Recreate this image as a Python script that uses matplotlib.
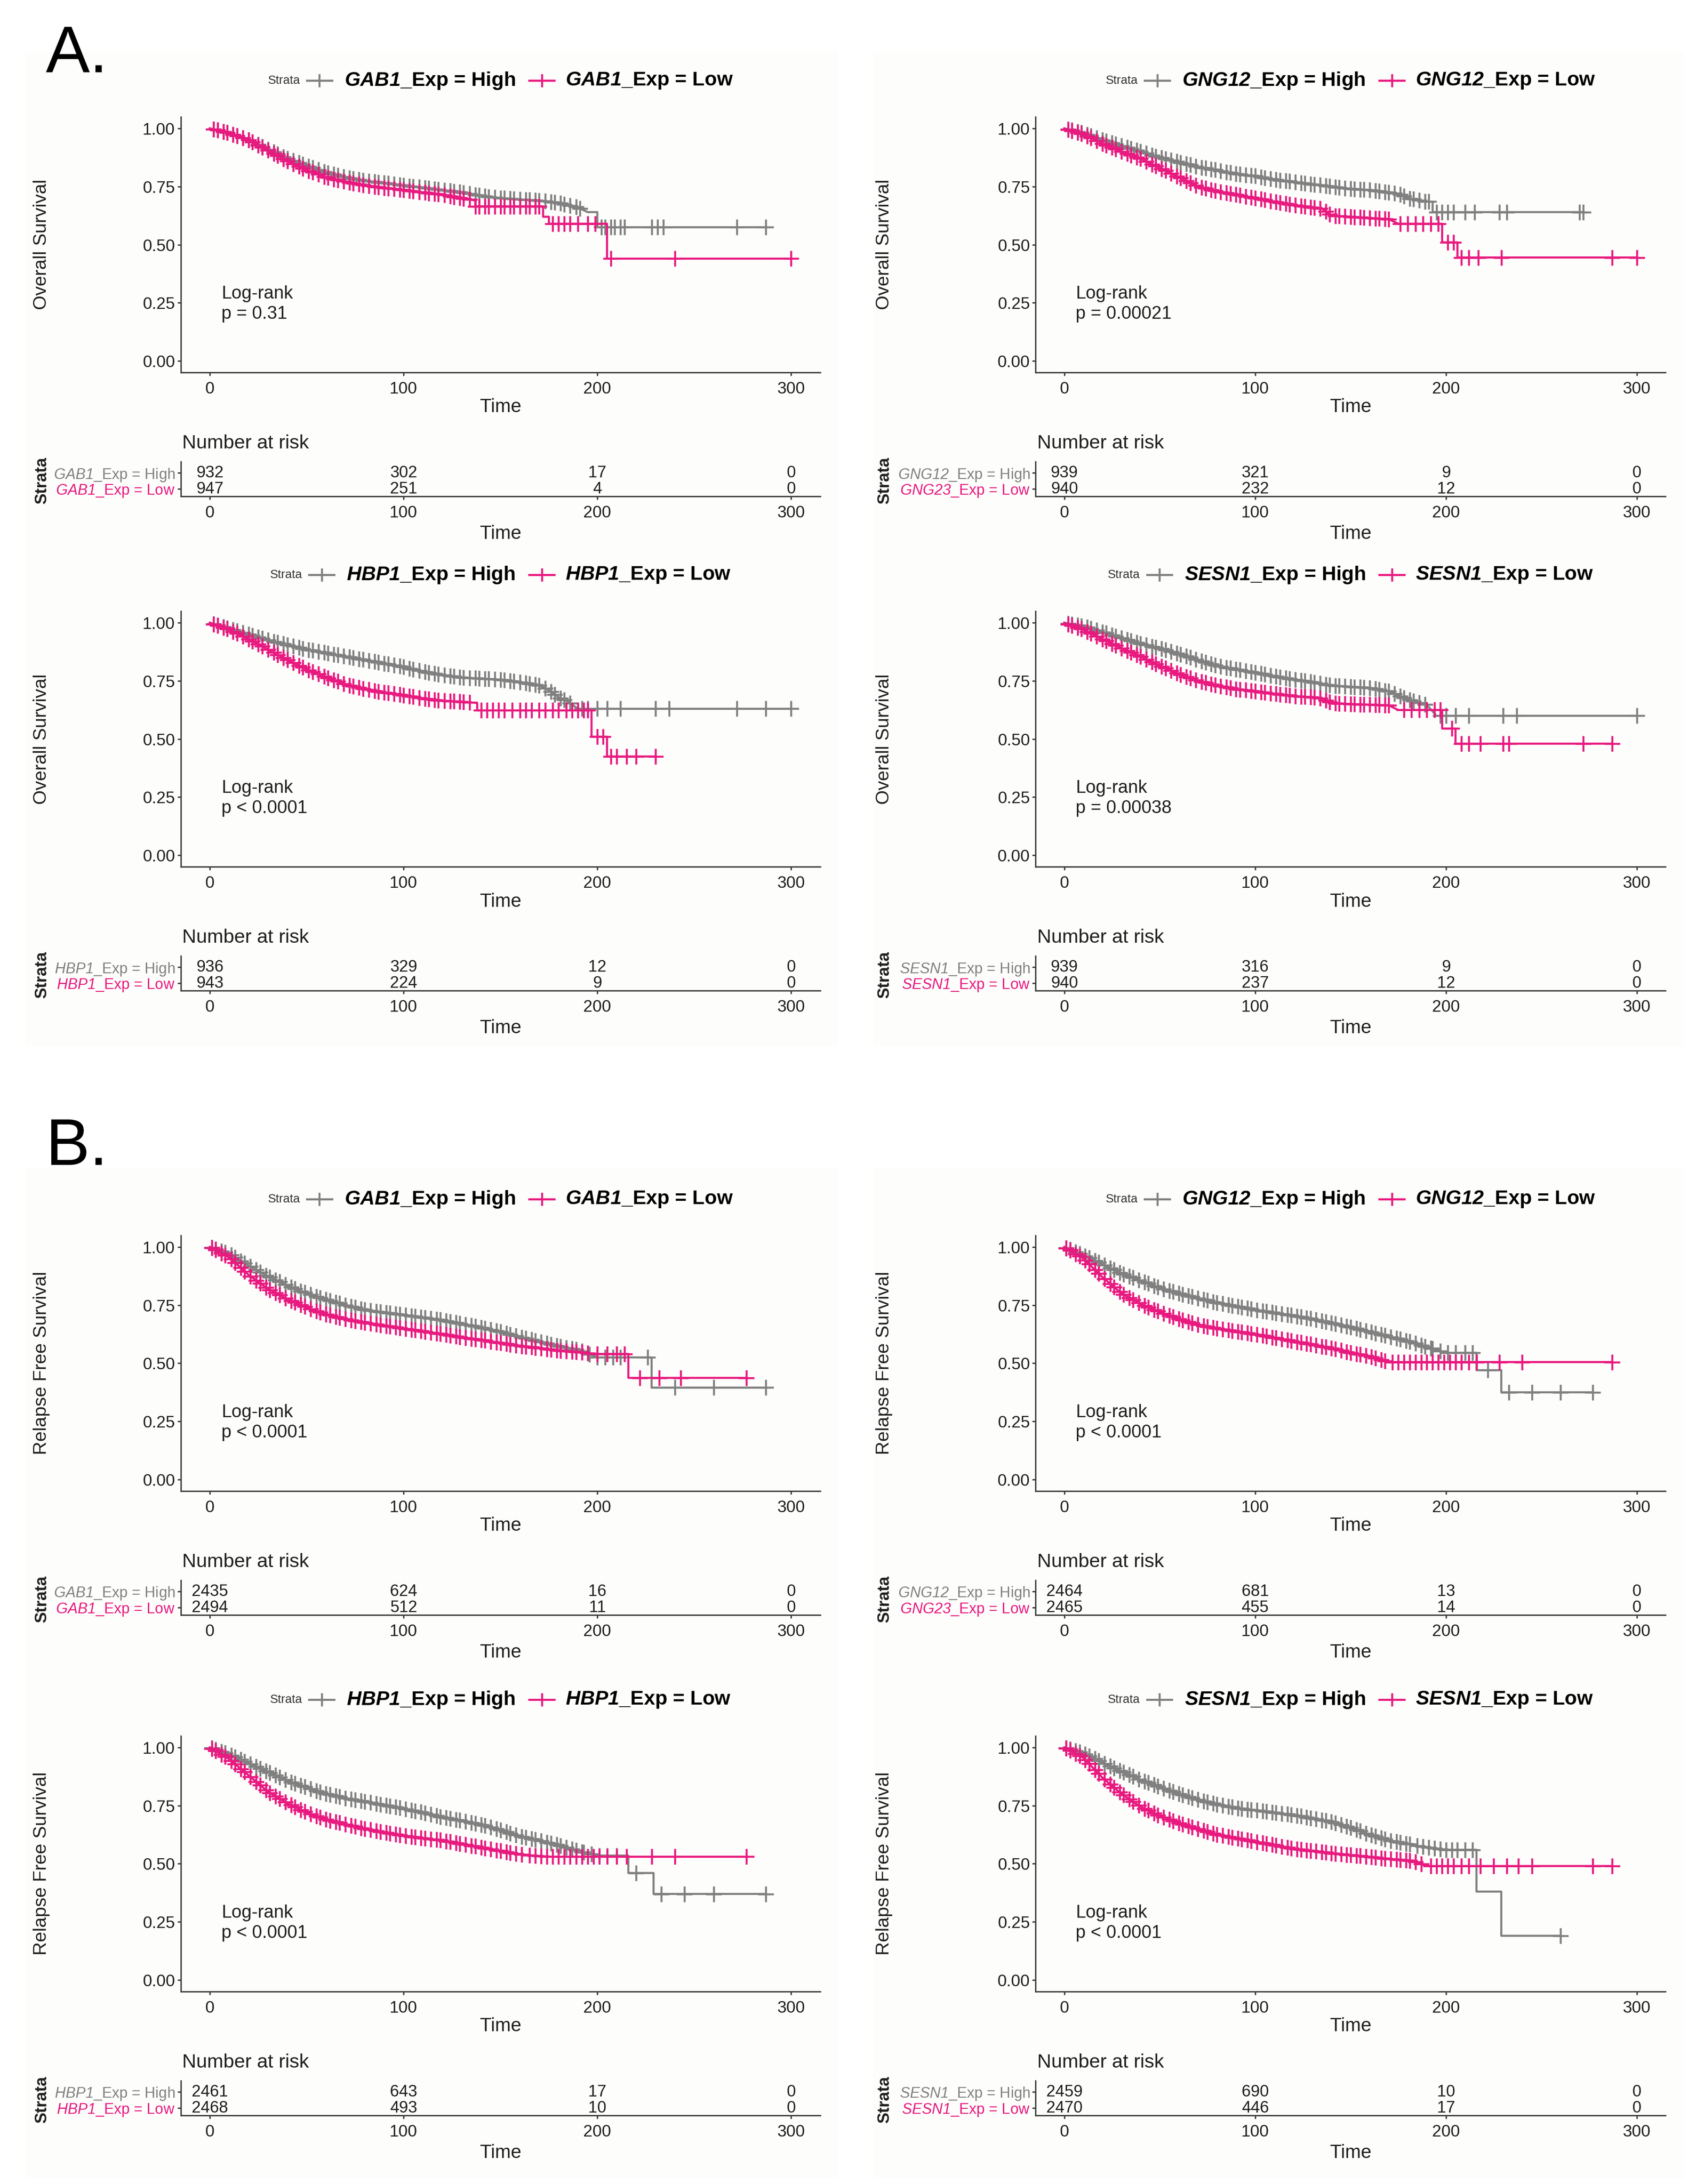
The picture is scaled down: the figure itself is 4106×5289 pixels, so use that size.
import matplotlib
matplotlib.use("Agg")
import matplotlib.pyplot as plt
from matplotlib.lines import Line2D
from matplotlib.patches import Rectangle
import numpy as np

plt.rcParams['font.family'] = ['Liberation Sans', 'DejaVu Sans']
plt.rcParams['mathtext.fontset'] = 'custom'
plt.rcParams['mathtext.rm'] = 'Liberation Sans'
plt.rcParams['mathtext.cal'] = 'Liberation Sans:italic'
plt.rcParams['mathtext.sf'] = 'Liberation Sans:italic:bold'

GRAY = '#808080'
PINK = '#E8197F'
INK = '#1e1e1e'

genes = ['GAB1', 'GNG12', 'HBP1', 'SESN1']
low_label_genes = ['GAB1', 'GNG23', 'HBP1', 'SESN1']   # typo kept from the source figure
risk_times = [0, 100, 200, 300]

# censoring marks in the crowded part of the curves
os_dense = [2, 4, 7, 9, 12, 14, 17, 20, 22, 25, 27, 30, 33, 35, 38, 40, 43, 46, 48, 51, 53, 56, 59, 61, 64,
            66, 69, 72, 74, 77, 79, 82, 85, 87, 90, 92, 95, 98, 100, 103, 105, 108, 111, 113, 116, 118,
            121, 124, 126, 129, 131, 134, 137, 139, 142, 144, 147, 150, 152, 155, 157, 160, 163, 165,
            168, 170, 173, 176, 178, 181, 183, 186, 189, 191]
rfs_dense = [1, 3, 6, 8, 11, 13, 16, 18, 21, 24, 26, 29, 31, 34, 36, 39, 42, 44, 47, 49, 52, 55, 57, 60, 62,
             65, 67, 70, 73, 75, 78, 80, 83, 86, 88, 91, 93, 96, 98, 101, 104, 106, 109, 111, 114, 117,
             119, 122, 124, 127, 129, 132, 135, 137, 140, 142, 145, 148, 150, 153, 155, 158, 161, 163,
             166, 168, 171, 174, 176, 179, 181, 184, 187, 189, 192]

# ---------------- A. overall survival ----------------
os_gab1_high_t = [0, 10, 20, 30, 40, 50, 60, 70, 80, 90, 100, 110, 120, 130, 140, 150, 160, 170, 180, 190, 195, 200, 200, 287]
os_gab1_high_s = [1, 0.98, 0.95, 0.91, 0.87, 0.84, 0.81, 0.79, 0.775, 0.765, 0.755, 0.745, 0.735, 0.725, 0.71, 0.70, 0.695, 0.69, 0.68, 0.66, 0.64, 0.64, 0.575, 0.575]
os_gab1_high_c = [202, 204, 207, 209, 212, 214, 228, 231, 234, 272, 287]
os_gab1_low_t = [0, 10, 20, 30, 40, 50, 60, 70, 80, 90, 100, 110, 120, 130, 137, 137, 172, 172, 175, 175, 205, 205, 300]
os_gab1_low_s = [1, 0.98, 0.95, 0.905, 0.86, 0.82, 0.79, 0.77, 0.755, 0.745, 0.735, 0.725, 0.715, 0.70, 0.69, 0.665, 0.665, 0.62, 0.62, 0.59, 0.59, 0.44, 0.44]
os_gab1_low_c = [177, 180, 183, 186, 190, 195, 199, 207, 240, 300]

os_gng12_high_t = [0, 10, 20, 30, 40, 50, 60, 70, 80, 90, 100, 110, 120, 130, 140, 150, 160, 170, 175, 180, 190, 193, 193, 272]
os_gng12_high_s = [1, 0.98, 0.95, 0.925, 0.90, 0.875, 0.855, 0.835, 0.82, 0.805, 0.795, 0.78, 0.77, 0.76, 0.75, 0.74, 0.735, 0.725, 0.72, 0.70, 0.685, 0.685, 0.64, 0.64]
os_gng12_high_c = [195, 198, 201, 204, 210, 215, 228, 232, 270, 272]
os_gng12_low_t = [0, 10, 20, 30, 40, 50, 60, 70, 80, 90, 100, 110, 120, 130, 135, 140, 150, 160, 170, 175, 198, 198, 206, 206, 300]
os_gng12_low_s = [1, 0.975, 0.935, 0.90, 0.87, 0.83, 0.79, 0.75, 0.73, 0.715, 0.70, 0.685, 0.67, 0.66, 0.655, 0.625, 0.62, 0.615, 0.61, 0.59, 0.59, 0.51, 0.51, 0.445, 0.445]
os_gng12_low_c = [176, 180, 184, 188, 192, 196, 201, 204, 208, 212, 217, 229, 287, 300]

os_hbp1_high_t = [0, 10, 20, 30, 40, 50, 60, 70, 80, 90, 100, 110, 120, 130, 140, 150, 160, 170, 175, 180, 185, 190, 300]
os_hbp1_high_s = [1, 0.975, 0.95, 0.925, 0.905, 0.885, 0.87, 0.855, 0.84, 0.825, 0.81, 0.79, 0.775, 0.765, 0.76, 0.755, 0.745, 0.73, 0.71, 0.68, 0.66, 0.63, 0.63]
os_hbp1_high_c = [192, 195, 200, 205, 212, 230, 237, 272, 287, 300]
os_hbp1_low_t = [0, 10, 20, 30, 40, 50, 60, 70, 80, 90, 100, 110, 120, 130, 135, 138, 138, 197, 197, 205, 205, 230]
os_hbp1_low_s = [1, 0.97, 0.93, 0.885, 0.84, 0.80, 0.766, 0.735, 0.715, 0.70, 0.688, 0.675, 0.665, 0.66, 0.657, 0.655, 0.623, 0.623, 0.51, 0.51, 0.425, 0.425]
os_hbp1_low_c = [140, 143, 146, 149, 152, 156, 160, 163, 166, 170, 173, 177, 180, 184, 187, 190, 193, 195, 200, 203, 207, 210, 215, 220, 230]

os_sesn1_high_t = [0, 10, 20, 30, 40, 50, 60, 70, 80, 90, 100, 110, 120, 130, 140, 150, 160, 170, 180, 190, 195, 300]
os_sesn1_high_s = [1, 0.985, 0.96, 0.935, 0.91, 0.89, 0.866, 0.84, 0.815, 0.80, 0.786, 0.77, 0.757, 0.745, 0.73, 0.725, 0.72, 0.705, 0.67, 0.647, 0.60, 0.60]
os_sesn1_high_c = [197, 200, 205, 212, 230, 237, 300]
os_sesn1_low_t = [0, 10, 20, 30, 40, 50, 60, 70, 80, 90, 100, 110, 120, 130, 135, 140, 150, 160, 170, 175, 198, 198, 205, 205, 287]
os_sesn1_low_s = [1, 0.97, 0.93, 0.89, 0.855, 0.815, 0.78, 0.75, 0.73, 0.715, 0.705, 0.695, 0.685, 0.68, 0.675, 0.655, 0.65, 0.648, 0.645, 0.625, 0.625, 0.545, 0.545, 0.48, 0.48]
os_sesn1_low_c = [178, 182, 186, 190, 194, 197, 203, 208, 212, 218, 230, 233, 272, 287]

os_dense_end_high = [195, 192, 188, 190]
os_dense_end_low = [170, 172, 135, 172]

os_risk_high = [[932, 302, 17, 0], [939, 321, 9, 0], [936, 329, 12, 0], [939, 316, 9, 0]]
os_risk_low = [[947, 251, 4, 0], [940, 232, 12, 0], [943, 224, 9, 0], [940, 237, 12, 0]]
os_pvals = ['p = 0.31', 'p = 0.00021', 'p < 0.0001', 'p = 0.00038']

# ---------------- B. relapse free survival ----------------
rfs_gab1_high_t = [0, 10, 20, 30, 40, 50, 60, 70, 80, 90, 100, 110, 120, 130, 140, 150, 160, 170, 180, 190, 200, 228, 228, 287]
rfs_gab1_high_s = [1, 0.97, 0.92, 0.873, 0.834, 0.80, 0.774, 0.75, 0.73, 0.718, 0.708, 0.697, 0.685, 0.67, 0.653, 0.635, 0.613, 0.593, 0.573, 0.558, 0.525, 0.525, 0.395, 0.395]
rfs_gab1_high_c = [192, 196, 200, 204, 208, 212, 226, 240, 260, 287]
rfs_gab1_low_t = [0, 10, 20, 30, 40, 50, 60, 70, 80, 90, 100, 110, 120, 130, 140, 150, 160, 170, 180, 190, 200, 216, 216, 277]
rfs_gab1_low_s = [1, 0.955, 0.88, 0.82, 0.775, 0.74, 0.71, 0.69, 0.675, 0.662, 0.65, 0.637, 0.625, 0.612, 0.60, 0.587, 0.575, 0.565, 0.555, 0.548, 0.54, 0.54, 0.437, 0.437]
rfs_gab1_low_c = [195, 200, 205, 210, 214, 222, 232, 243, 277]

rfs_gng12_high_t = [0, 10, 20, 30, 40, 50, 60, 70, 80, 90, 100, 110, 120, 130, 140, 150, 160, 170, 180, 190, 200, 216, 216, 229, 229, 277]
rfs_gng12_high_s = [1, 0.965, 0.925, 0.886, 0.855, 0.824, 0.80, 0.78, 0.76, 0.745, 0.73, 0.717, 0.705, 0.69, 0.673, 0.655, 0.635, 0.615, 0.595, 0.57, 0.545, 0.545, 0.47, 0.47, 0.375, 0.375]
rfs_gng12_high_c = [193, 197, 201, 205, 210, 214, 222, 233, 245, 260, 277]
rfs_gng12_low_t = [0, 10, 20, 30, 40, 50, 60, 70, 80, 90, 100, 110, 120, 130, 140, 150, 160, 170, 287]
rfs_gng12_low_s = [1, 0.95, 0.87, 0.80, 0.755, 0.72, 0.69, 0.665, 0.65, 0.637, 0.625, 0.61, 0.595, 0.58, 0.565, 0.545, 0.53, 0.505, 0.505]
rfs_gng12_low_c = [172, 175, 178, 181, 184, 187, 190, 193, 196, 199, 202, 205, 208, 212, 216, 228, 240, 287]

rfs_hbp1_high_t = [0, 10, 20, 30, 40, 50, 60, 70, 80, 90, 100, 110, 120, 130, 140, 150, 160, 170, 180, 190, 200, 216, 216, 229, 229, 287]
rfs_hbp1_high_s = [1, 0.97, 0.932, 0.895, 0.857, 0.827, 0.80, 0.782, 0.767, 0.752, 0.737, 0.72, 0.70, 0.685, 0.668, 0.645, 0.617, 0.60, 0.58, 0.555, 0.535, 0.535, 0.46, 0.46, 0.37, 0.37]
rfs_hbp1_high_c = [193, 197, 201, 205, 210, 220, 233, 245, 260, 287]
rfs_hbp1_low_t = [0, 10, 20, 30, 40, 50, 60, 70, 80, 90, 100, 110, 120, 130, 140, 150, 160, 175, 277]
rfs_hbp1_low_s = [1, 0.95, 0.88, 0.81, 0.76, 0.72, 0.69, 0.67, 0.65, 0.635, 0.62, 0.61, 0.60, 0.585, 0.57, 0.555, 0.54, 0.53, 0.53]
rfs_hbp1_low_c = [165, 168, 171, 174, 177, 180, 183, 186, 189, 192, 195, 198, 201, 205, 210, 215, 228, 240, 277]

rfs_sesn1_high_t = [0, 10, 20, 30, 40, 50, 60, 70, 80, 90, 100, 110, 120, 130, 140, 150, 160, 170, 180, 190, 200, 216, 216, 229, 229, 260]
rfs_sesn1_high_s = [1, 0.975, 0.935, 0.896, 0.86, 0.83, 0.80, 0.775, 0.755, 0.74, 0.73, 0.72, 0.71, 0.695, 0.68, 0.655, 0.625, 0.60, 0.585, 0.57, 0.56, 0.56, 0.38, 0.38, 0.19, 0.19]
rfs_sesn1_high_c = [185, 188, 191, 194, 197, 200, 203, 206, 210, 214, 260]
rfs_sesn1_low_t = [0, 10, 20, 30, 40, 50, 60, 70, 80, 90, 100, 110, 120, 130, 140, 150, 160, 170, 180, 185, 190, 287]
rfs_sesn1_low_s = [1, 0.955, 0.87, 0.80, 0.745, 0.705, 0.675, 0.65, 0.625, 0.61, 0.595, 0.58, 0.565, 0.555, 0.545, 0.537, 0.53, 0.52, 0.515, 0.505, 0.49, 0.49]
rfs_sesn1_low_c = [192, 195, 198, 201, 204, 208, 212, 218, 225, 232, 238, 245, 277, 287]

rfs_dense_end_high = [190, 192, 192, 182]
rfs_dense_end_low = [192, 170, 162, 188]

rfs_risk_high = [[2435, 624, 16, 0], [2464, 681, 13, 0], [2461, 643, 17, 0], [2459, 690, 10, 0]]
rfs_risk_low = [[2494, 512, 11, 0], [2465, 455, 14, 0], [2468, 493, 10, 0], [2470, 446, 17, 0]]
rfs_pvals = ['p < 0.0001', 'p < 0.0001', 'p < 0.0001', 'p < 0.0001']

os_curves = [
    ((os_gab1_high_t, os_gab1_high_s, os_gab1_high_c), (os_gab1_low_t, os_gab1_low_s, os_gab1_low_c)),
    ((os_gng12_high_t, os_gng12_high_s, os_gng12_high_c), (os_gng12_low_t, os_gng12_low_s, os_gng12_low_c)),
    ((os_hbp1_high_t, os_hbp1_high_s, os_hbp1_high_c), (os_hbp1_low_t, os_hbp1_low_s, os_hbp1_low_c)),
    ((os_sesn1_high_t, os_sesn1_high_s, os_sesn1_high_c), (os_sesn1_low_t, os_sesn1_low_s, os_sesn1_low_c)),
]
rfs_curves = [
    ((rfs_gab1_high_t, rfs_gab1_high_s, rfs_gab1_high_c), (rfs_gab1_low_t, rfs_gab1_low_s, rfs_gab1_low_c)),
    ((rfs_gng12_high_t, rfs_gng12_high_s, rfs_gng12_high_c), (rfs_gng12_low_t, rfs_gng12_low_s, rfs_gng12_low_c)),
    ((rfs_hbp1_high_t, rfs_hbp1_high_s, rfs_hbp1_high_c), (rfs_hbp1_low_t, rfs_hbp1_low_s, rfs_hbp1_low_c)),
    ((rfs_sesn1_high_t, rfs_sesn1_high_s, rfs_sesn1_high_c), (rfs_sesn1_low_t, rfs_sesn1_low_s, rfs_sesn1_low_c)),
]

# layout in "display units" of a 1220 x 1571 grid
W, H = 1220.0, 1571.0
SCALE = 4106 / W
cols = [(130, 590), (745, 1198)]
ylab_x = [30, 636]
row_tops = [84, 439.6, 888.6, 1248.6]
MAIN_H = 184
MS, MEW, LW = 27, 3.4, 3.6

fig = plt.figure(figsize=(41.06, 52.89), dpi=100)
fig.patch.set_facecolor('white')
renderer = fig.canvas.get_renderer()


def fx(x):
    return x / W


def fy(y):
    return 1 - y / H


# faint panel backgrounds
for (x0, x1) in [(18, 603), (628, 1211)]:
    for (y0, y1) in [(37, 753), (840, 1567)]:
        fig.add_artist(Rectangle((fx(x0), fy(y1)), fx(x1) - fx(x0), (y1 - y0) / H,
                                 transform=fig.transFigure, facecolor='#FDFDFB', edgecolor='none', zorder=0))

fig.text(fx(33), fy(52), 'A.', fontsize=115, va='baseline', ha='left', color='black')
fig.text(fx(33), fy(838), 'B.', fontsize=115, va='baseline', ha='left', color='black')


def style_axis(ax):
    for side in ['top', 'right']:
        ax.spines[side].set_visible(False)
    for side in ['left', 'bottom']:
        ax.spines[side].set_linewidth(2.4)
        ax.spines[side].set_color('#3a3a3a')
    ax.tick_params(width=2.4, length=6, color='#3a3a3a', labelsize=29, labelcolor=INK)
    ax.tick_params(axis='x', pad=9)
    ax.tick_params(axis='y', pad=4)
    ax.set_facecolor('none')
    ax.set_xlim(-15, 315)
    ax.set_xticks([0, 100, 200, 300])


def draw_curve(ax, curve, dense, dense_end, color, z):
    t, s, cens = curve
    ax.plot(t, s, color=color, lw=LW, zorder=z)
    ct = [c for c in dense if c <= dense_end] + list(cens)
    cy = np.interp(ct, t, s)
    ax.plot(ct, cy, ls='none', marker='+', ms=MS, mew=MEW, color=color, zorder=z)


def legend_row(xc, yc, gene):
    items = [('txt', 'Strata', dict(fontsize=21, color='#333333')), ('gap', 5), ('key', GRAY), ('gap', 9),
             ('txt', r'$\mathsf{%s}$_Exp = High' % gene, dict(fontsize=35, fontweight='bold', color='black')),
             ('gap', 10), ('key', PINK), ('gap', 8),
             ('txt', r'$\mathsf{%s}$_Exp = Low' % gene, dict(fontsize=35, fontweight='bold', color='black'))]
    widths = []
    arts = []
    for item in items:
        kind, val = item[0], item[1]
        if kind == 'txt':
            t = fig.text(0, fy(yc), val, va='center', ha='left', **item[2])
            arts.append(t)
            widths.append(t.get_window_extent(renderer).width / SCALE)
        elif kind == 'key':
            arts.append(val)
            widths.append(18)
        else:
            arts.append(None)
            widths.append(val)
    x = xc - sum(widths) / 2
    for a, w in zip(arts, widths):
        if isinstance(a, str):
            fig.add_artist(Line2D([fx(x), fx(x + w)], [fy(yc), fy(yc)], transform=fig.transFigure,
                                  color=a, lw=LW))
            fig.add_artist(Line2D([fx(x + w / 2)], [fy(yc)], transform=fig.transFigure, color=a,
                                  marker='+', ms=MS - 4, mew=MEW, ls='none'))
        elif a is not None:
            a.set_x(fx(x))
        x += w


def panel(col, row, gene, low_gene, curves, dense, end_high, end_low, risk_high, risk_low, pval, ylabel):
    L, R = cols[col]
    T = row_tops[row]
    B = T + MAIN_H
    ax = fig.add_axes([fx(L), fy(B), (R - L) / W, MAIN_H / H])
    style_axis(ax)
    ax.set_ylim(-0.05, 1.05)
    ax.set_yticks([0, 0.25, 0.5, 0.75, 1.0])
    ax.set_yticklabels(['0.00', '0.25', '0.50', '0.75', '1.00'])
    draw_curve(ax, curves[0], dense, end_high, GRAY, 3)
    draw_curve(ax, curves[1], dense, end_low, PINK, 4)
    ax.text(6, 0.245, 'Log-rank\n' + pval, fontsize=31.5, ha='left', va='center', color=INK, linespacing=1.25)
    xc = (L + R) / 2
    fig.text(fx(xc), fy(B + 25), 'Time', fontsize=33, ha='center', va='center', color=INK)
    fig.text(fx(ylab_x[col]), fy(T + MAIN_H / 2), ylabel, fontsize=32.5, rotation=90,
             ha='center', va='center', color=INK)
    legend_row(xc, T - 26, gene)

    # number at risk table
    rt, rb = B + 64, B + 89
    axr = fig.add_axes([fx(L), fy(rb), (R - L) / W, (rb - rt) / H])
    style_axis(axr)
    axr.set_ylim(0.55, 2.7)
    axr.set_yticks([2, 1])
    labs = axr.set_yticklabels([r'$\mathcal{%s}$_Exp = High' % gene, r'$\mathcal{%s}$_Exp = Low' % low_gene],
                               fontsize=26)
    labs[0].set_color(GRAY)
    labs[1].set_color(PINK)
    for i, tm in enumerate(risk_times):
        axr.text(tm, 2, str(risk_high[i]), ha='center', va='center', fontsize=28.5, color=INK)
        axr.text(tm, 1, str(risk_low[i]), ha='center', va='center', fontsize=28.5, color=INK)
    fig.text(fx(L + 1), fy(B + 51), 'Number at risk', fontsize=34, ha='left', va='center', color=INK)
    fig.text(fx(xc), fy(rb + 27), 'Time', fontsize=33, ha='center', va='center', color=INK)
    fig.text(fx(ylab_x[col]), fy((rt + rb) / 2 + 1), 'Strata', fontsize=29, fontweight='bold', rotation=90,
             ha='center', va='center', color=INK)


for k in range(4):
    col = k % 2
    row = k // 2
    panel(col, row, genes[k], low_label_genes[k], os_curves[k], os_dense,
          os_dense_end_high[k], os_dense_end_low[k], os_risk_high[k], os_risk_low[k],
          os_pvals[k], 'Overall Survival')
    panel(col, row + 2, genes[k], low_label_genes[k], rfs_curves[k], rfs_dense,
          rfs_dense_end_high[k], rfs_dense_end_low[k], rfs_risk_high[k], rfs_risk_low[k],
          rfs_pvals[k], 'Relapse Free Survival')

fig.savefig('out.png', dpi=100)
